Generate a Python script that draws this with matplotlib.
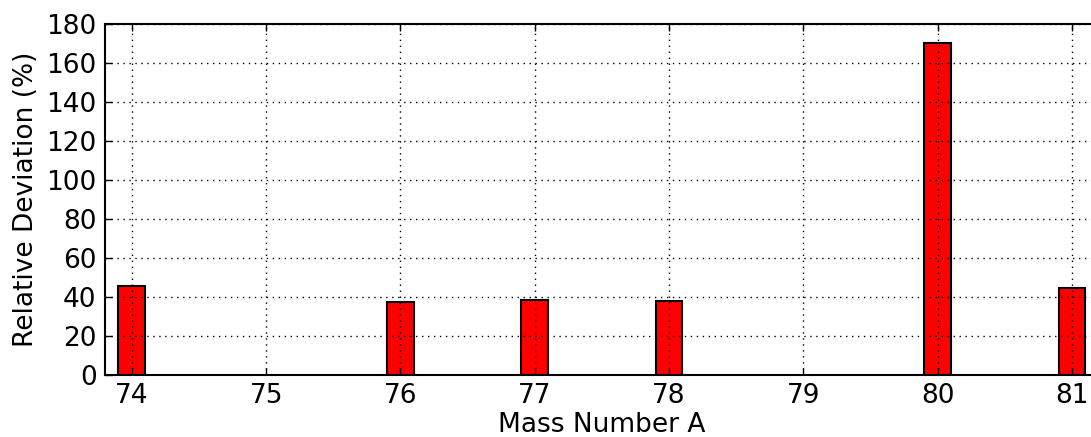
import matplotlib
matplotlib.use('Agg')
import matplotlib.pyplot as plt

mass = [74, 76, 77, 78, 80, 81]
deviation = [45.5, 37.5, 38.5, 38.0, 170.0, 44.5]

fig = plt.figure(figsize=(10.91, 4.37), dpi=100)
ax = fig.add_axes([0.0962, 0.1419, 0.911, 0.8032])

ax.bar(mass, deviation, width=0.2, color='red', edgecolor='black', linewidth=1.5, zorder=1)

ax.set_xlim(73.8, 81.2)
ax.set_ylim(0, 180)
ax.set_xticks(range(74, 82))
ax.set_yticks(range(0, 181, 20))
ax.grid(True, color='black', linestyle=(0, (1, 3.3)), linewidth=1.0)
ax.set_axisbelow(False)
ax.tick_params(direction='in', length=5, width=1, labelsize=19, pad=6, top=True, right=True)
for s in ax.spines.values():
    s.set_linewidth(1.5)

ax.set_xlabel('Mass Number A', fontsize=19, labelpad=2)
ax.set_ylabel('Relative Deviation (%)', fontsize=19, labelpad=5)

fig.savefig('out.png', dpi=100)
